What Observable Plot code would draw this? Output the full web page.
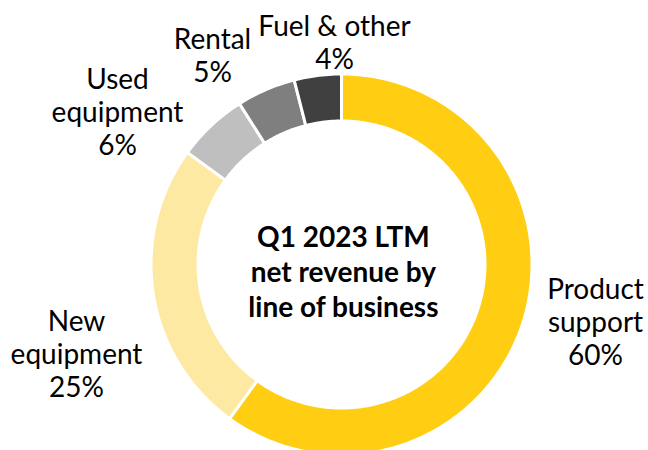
<!DOCTYPE html>
<html>
<head>
<meta charset="utf-8">
<script src="https://cdn.jsdelivr.net/npm/d3@7"></script>
<script src="https://cdn.jsdelivr.net/npm/@observablehq/plot@0.6"></script>
<style>
  html, body { margin: 0; padding: 0; background: #fff; }
  #chart { width: 648px; height: 450px; overflow: hidden; }
</style>
</head>
<body>
<div id="chart"></div>
<script>
// ---- data ----
const categories = ["Product support", "New equipment", "Used equipment", "Rental", "Fuel & other"];
const shares = [60, 25, 6, 5, 4];
const labelText = ["Product\nsupport\n60%", "New\nequipment\n25%", "Used\nequipment\n6%", "Rental\n5%", "Fuel & other\n4%"];
const centerTitle = "Q1 2023 LTM\nnet revenue by\nline of business";
const colors = ["#FFCD11", "#FEE9A3", "#BFBFBF", "#7F7F7F", "#404040"];

// ---- layout (pixels) ----
const W = 648, H = 450;
const cx = 341, cy = 264, R = 189;         // donut centre and outer radius
const innerFrac = 145 / 189;
// label block centres, offset from donut centre in px
const labelOffsets = [[254, 57], [-265, 89], [-224, -153], [-129, -210], [-7, -223]];

// ---- build wedge polygons in unit-radius coordinates ----
const pie = d3.pie().sort(null).value(d => d.share).startAngle(0).endAngle(2 * Math.PI);
const rows = categories.map((c, i) => ({category: c, share: shares[i], label: labelText[i], off: labelOffsets[i]}));
const arcs = pie(rows);
const poly = [];
const ro = 1.0 + 1.5 / R, ri = innerFrac - 1.5 / R;
for (const a of arcs) {
  const n = Math.max(8, Math.ceil((a.endAngle - a.startAngle) / (Math.PI / 180)));
  const pts = [];
  for (let k = 0; k <= n; k++) {
    const t = a.startAngle + (a.endAngle - a.startAngle) * k / n;
    pts.push({category: a.data.category, x: Math.sin(t) * ro, y: Math.cos(t) * ro});
  }
  for (let k = n; k >= 0; k--) {
    const t = a.startAngle + (a.endAngle - a.startAngle) * k / n;
    pts.push({category: a.data.category, x: Math.sin(t) * ri, y: Math.cos(t) * ri});
  }
  pts.push({...pts[0]});
  poly.push(...pts);
}
const labels = rows.map(r => ({label: r.label, x: r.off[0] / R, y: -r.off[1] / R}));

const font = "Lato, 'Open Sans', sans-serif";
const chart = Plot.plot({
  width: W, height: H,
  margin: 0,
  style: {fontFamily: font, background: "#fff"},
  x: {domain: [-cx / R, (W - cx) / R], axis: null},
  y: {domain: [-(H - cy) / R, cy / R], axis: null},
  color: {domain: categories, range: colors},
  marks: [
    Plot.line(poly, {x: "x", y: "y", z: "category", fill: "category", stroke: "#fff", strokeWidth: 3, curve: "linear"}),
    Plot.text(labels, {x: "x", y: "y", text: "label", fontSize: 28, lineHeight: 1.18, fill: "#000", textAnchor: "middle", lineAnchor: "middle"}),
    Plot.text([centerTitle], {x: 0.01, y: -0.032, text: d => d, fontSize: 28, fontWeight: "bold", lineHeight: 1.25, fill: "#000", textAnchor: "middle", lineAnchor: "middle"})
  ]
});
document.getElementById("chart").append(chart);
</script>
</body>
</html>
